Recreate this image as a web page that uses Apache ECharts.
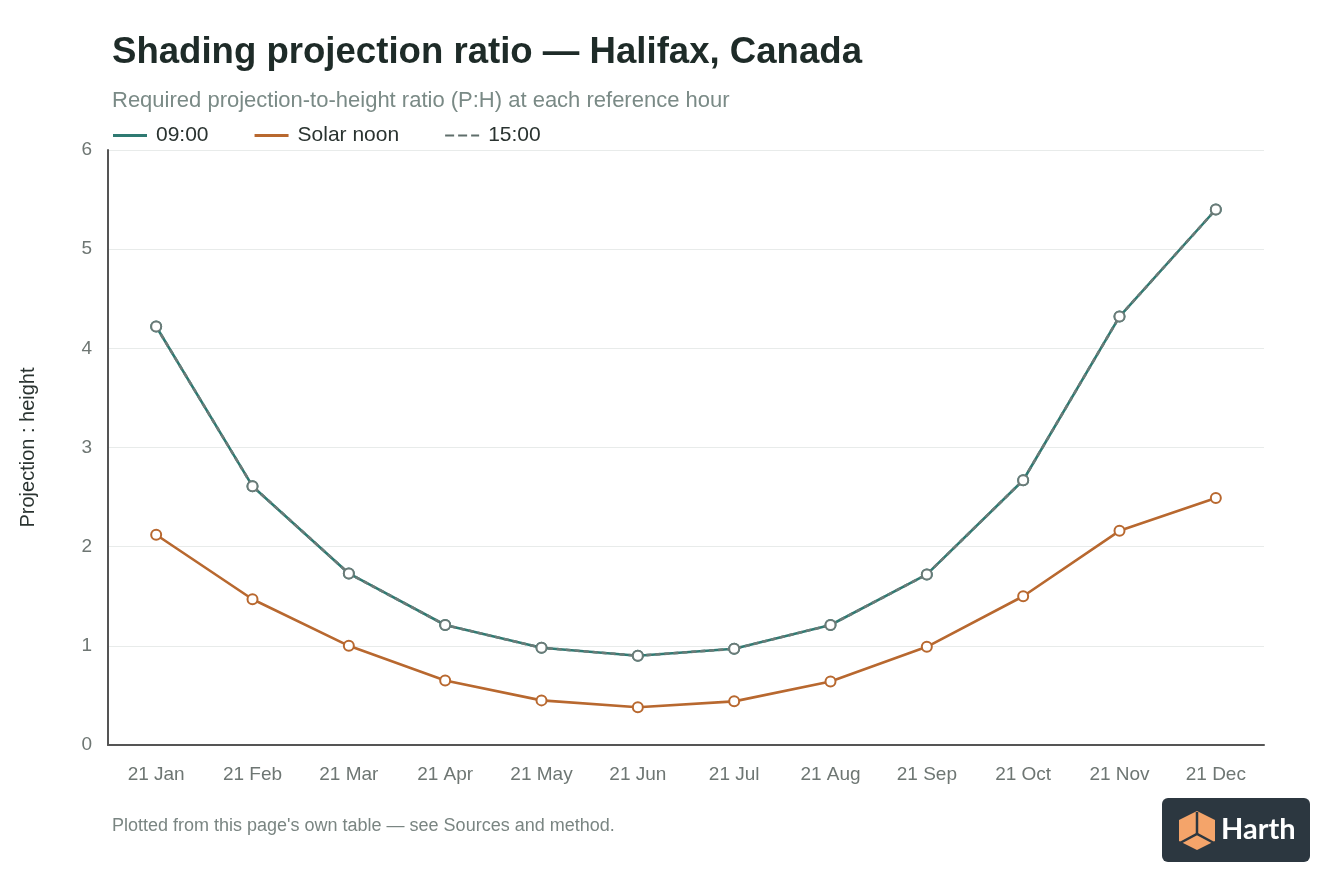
<!DOCTYPE html>
<html>
<head>
<meta charset="utf-8">
<script src="https://cdn.jsdelivr.net/npm/echarts@6/dist/echarts.min.js"></script>
<style>
  html, body { margin: 0; padding: 0; background: #fff; }
  #chart { width: 1344px; height: 896px; }
</style>
</head>
<body>
<div id="chart"></div>
<script>
const months = ['21 Jan', '21 Feb', '21 Mar', '21 Apr', '21 May', '21 Jun',
                '21 Jul', '21 Aug', '21 Sep', '21 Oct', '21 Nov', '21 Dec'];
const morning = [4.22, 2.61, 1.73, 1.21, 0.98, 0.90, 0.97, 1.21, 1.72, 2.67, 4.32, 5.40];
const noon = [2.12, 1.47, 1.00, 0.65, 0.45, 0.38, 0.44, 0.64, 0.99, 1.50, 2.16, 2.49];
const afternoon = [4.22, 2.61, 1.73, 1.21, 0.98, 0.90, 0.97, 1.21, 1.72, 2.67, 4.32, 5.40];

const font = 'Helvetica, "Liberation Sans", Arial, sans-serif';

const chart = echarts.init(document.getElementById('chart'));

function lineSeries(name, data, color, dashed, z) {
    return {
        name: name,
        type: 'line',
        data: data,
        z: z,
        symbol: 'circle',
        symbolSize: 10,
        lineStyle: { color: color, width: 2.6, type: dashed ? [5, 4] : 'solid' },
        itemStyle: { color: '#fff', borderColor: color, borderWidth: 2 },
        emphasis: { disabled: true }
    };
}

const option = {
    backgroundColor: '#fff',
    animation: false,
    title: [
        {
            text: 'Shading projection ratio — Halifax, Canada',
            left: 107, top: 29,
            textStyle: { fontFamily: font, fontSize: 36.6, fontWeight: 'bold', color: '#1e2b28' }
        },
        {
            text: 'Required projection-to-height ratio (P:H) at each reference hour',
            left: 107, top: 85,
            textStyle: { fontFamily: font, fontSize: 22, fontWeight: 'normal', color: '#7a8a86' }
        },
        {
            text: "Plotted from this page's own table — see Sources and method.",
            left: 107, top: 812,
            textStyle: { fontFamily: font, fontSize: 18, fontWeight: 'normal', color: '#7a8582' }
        }
    ],
    legend: {
        left: 108, top: 120,
        itemWidth: 34, itemHeight: 3, itemGap: 46,
        icon: 'rect',
        textStyle: { fontFamily: font, fontSize: 21, color: '#2a3330', padding: [0, 0, 0, 4] },
        data: [
            { name: '09:00', itemStyle: { color: '#2f7a72', borderWidth: 0 } },
            { name: 'Solar noon', itemStyle: { color: '#b8682f', borderWidth: 0 } },
            { name: '15:00', icon: 'path://M0,0h9v2h-9z M13,0h9v2h-9z M26,0h8v2h-8z', itemStyle: { color: '#5f6e6b', borderWidth: 0 } }
        ]
    },
    grid: { left: 108, right: 80, top: 150, bottom: 151 },
    xAxis: {
        type: 'category',
        data: months,
        boundaryGap: true,
        axisLine: { lineStyle: { color: '#555', width: 2 } },
        axisTick: { show: false },
        axisLabel: { fontFamily: font, fontSize: 19, color: '#6e7673', margin: 20 }
    },
    yAxis: {
        type: 'value',
        min: 0, max: 6, interval: 1,
        name: 'Projection : height',
        nameLocation: 'middle',
        nameGap: 70,
        nameTextStyle: { fontFamily: font, fontSize: 20, color: '#2a3330' },
        axisLine: { show: true, lineStyle: { color: '#555', width: 2 } },
        axisTick: { show: false },
        axisLabel: { fontFamily: font, fontSize: 19, color: '#6e7673', margin: 16 },
        splitLine: { lineStyle: { color: '#e8ebea', width: 1 } }
    },
    series: [
        lineSeries('09:00', morning, '#2f7a72', false, 2),
        lineSeries('Solar noon', noon, '#b8682f', false, 3),
        lineSeries('15:00', afternoon, '#6b7b78', true, 4)
    ],
    graphic: [
        {
            type: 'group', left: 1162, top: 798,
            children: [
                { type: 'rect', shape: { x: 0, y: 0, width: 148, height: 64, r: 6 }, style: { fill: '#2c3740' } },
                { type: 'polygon', shape: { points: [[35, 13], [53, 22], [53, 43], [35, 52], [17, 43], [17, 22]] }, style: { fill: '#f4a46a' } },
                { type: 'polyline', shape: { points: [[35, 14], [35, 36]] }, style: { stroke: '#2c3740', lineWidth: 2.5, fill: null } },
                { type: 'polyline', shape: { points: [[18, 45], [35, 36], [52, 45]] }, style: { stroke: '#2c3740', lineWidth: 2.5, fill: null } },
                { type: 'text', style: { x: 59, y: 17, text: 'Harth', fontFamily: 'Lato, "DejaVu Sans", sans-serif', fontSize: 29, fontWeight: 'bold', fill: '#ffffff' } }
            ]
        }
    ]
};

chart.setOption(option);
</script>
</body>
</html>
